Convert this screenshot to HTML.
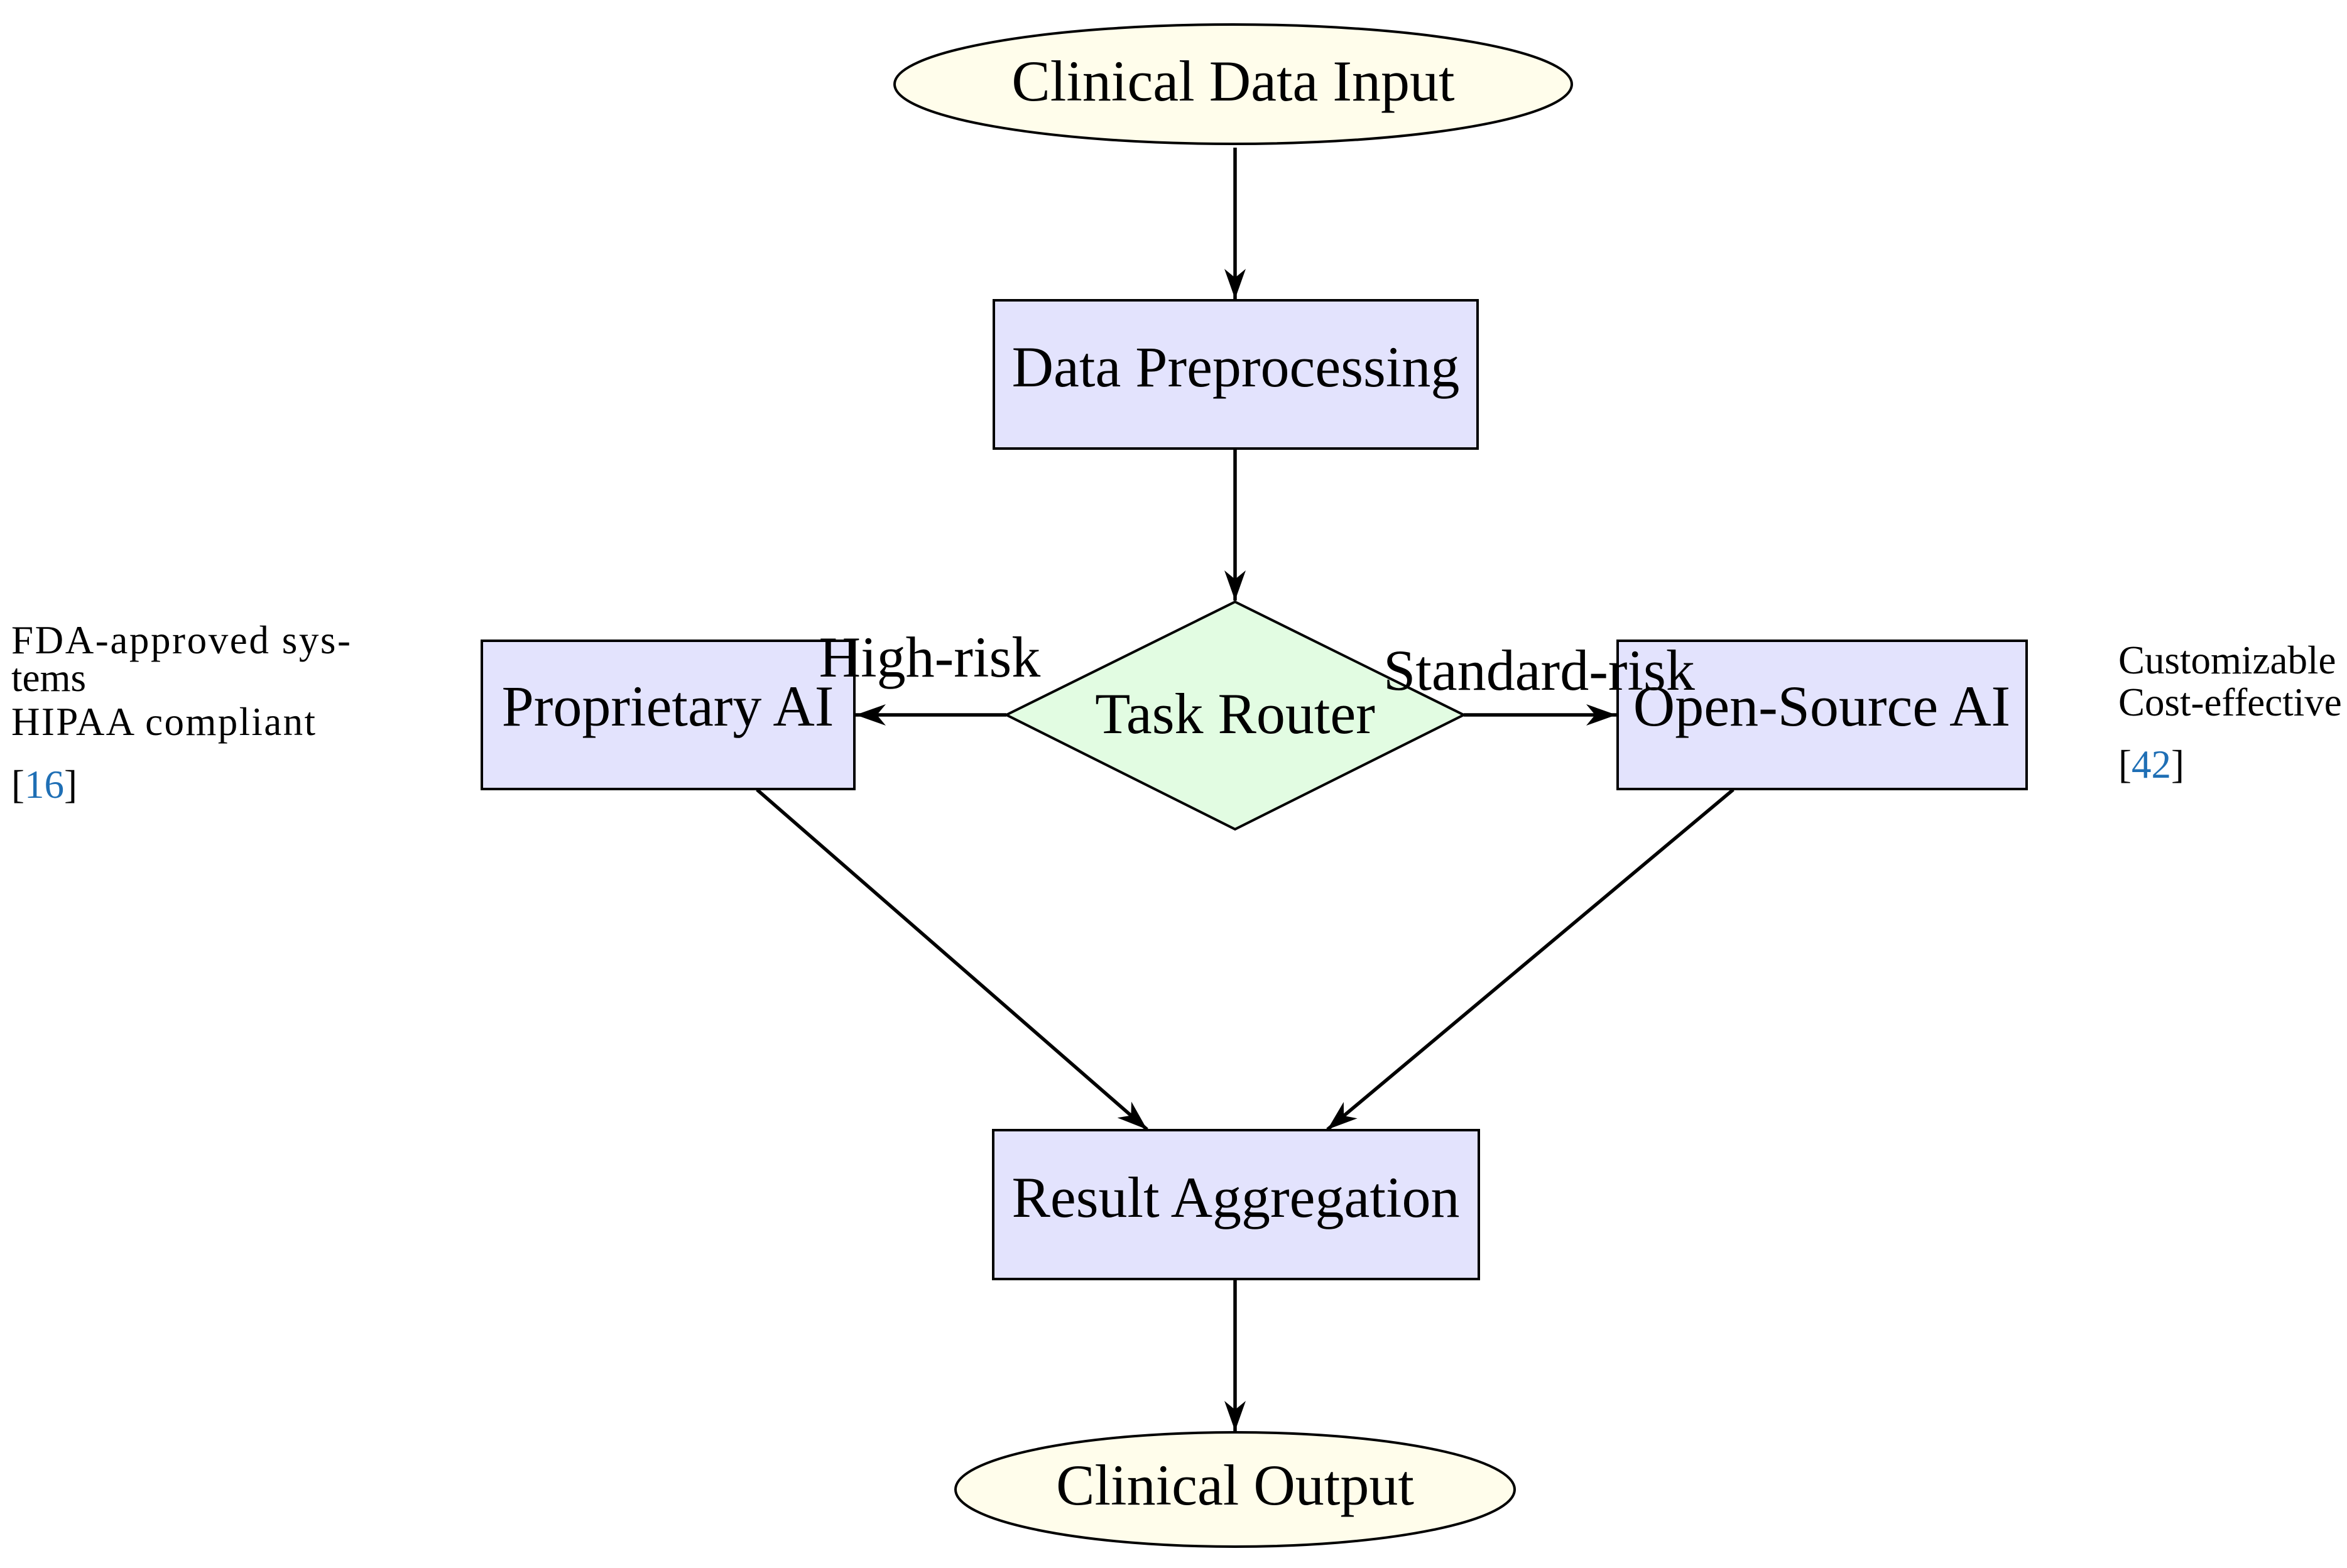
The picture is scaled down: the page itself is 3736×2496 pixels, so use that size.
<!DOCTYPE html>
<html><head><meta charset="utf-8"><style>
html,body{margin:0;padding:0;background:#fff;}
svg{display:block;}
text{font-family:"Liberation Serif",serif;fill:#000;}
</style></head><body>
<svg width="3736" height="2496" viewBox="0 0 3736 2496" xmlns="http://www.w3.org/2000/svg">
<defs>
<marker id="ah" viewBox="-50 -20 52 40" refX="0" refY="0" markerWidth="52" markerHeight="40" orient="auto" markerUnits="userSpaceOnUse">
<path d="M0,0 L-48,-17 L-34,0 L-48,17 z" fill="#000"/>
</marker>
</defs>
<g stroke="#000" stroke-width="4">
<ellipse cx="1963" cy="134" rx="539" ry="95" fill="#fffdeb"/>
<rect x="1582" y="478" width="770" height="236" fill="#e3e3fd"/>
<polygon points="1966,958 2330,1138 1966,1320 1602,1138" fill="#e2fce2"/>
<rect x="767" y="1020" width="593" height="236" fill="#e3e3fd"/>
<rect x="2575" y="1020" width="651" height="236" fill="#e3e3fd"/>
<rect x="1581" y="1799" width="773" height="237" fill="#e3e3fd"/>
<ellipse cx="1966" cy="2371" rx="445" ry="91" fill="#fffdeb"/>
</g>
<g stroke="#000" stroke-width="5.5" fill="none" marker-end="url(#ah)">
<line x1="1966" y1="235" x2="1966" y2="476"/>
<line x1="1966" y1="714" x2="1966" y2="956"/>
<line x1="1602" y1="1138" x2="1362" y2="1138"/>
<line x1="2330" y1="1138" x2="2573" y2="1138"/>
<line x1="1205" y1="1257" x2="1826" y2="1798"/>
<line x1="2759" y1="1257" x2="2113" y2="1798"/>
<line x1="1966" y1="2036" x2="1966" y2="2278"/>
</g>
<g font-size="92" text-anchor="middle">
<text x="1963" y="160">Clinical Data Input</text>
<text x="1967" y="615">Data Preprocessing</text>
<text x="1966" y="1167">Task Router</text>
<text x="1063" y="1155">Proprietary AI</text>
<text x="2900" y="1155">Open-Source AI</text>
<text x="1967" y="1937">Result Aggregation</text>
<text x="1966" y="2395">Clinical Output</text>
<text x="1480" y="1077">High-risk</text>
<text x="2450" y="1098">Standard-risk</text>
</g>
<g font-size="63">
<text x="18" y="1040" textLength="540" lengthAdjust="spacing">FDA-approved sys-</text>
<text x="18" y="1100">tems</text>
<text x="18" y="1170" textLength="484" lengthAdjust="spacing">HIPAA compliant</text>
<text x="18" y="1270">[<tspan fill="#1f6fb5">16</tspan>]</text>
<text x="3372" y="1072">Customizable</text>
<text x="3372" y="1139">Cost-effective</text>
<text x="3372" y="1238">[<tspan fill="#1f6fb5">42</tspan>]</text>
</g>
</svg>
</body></html>
